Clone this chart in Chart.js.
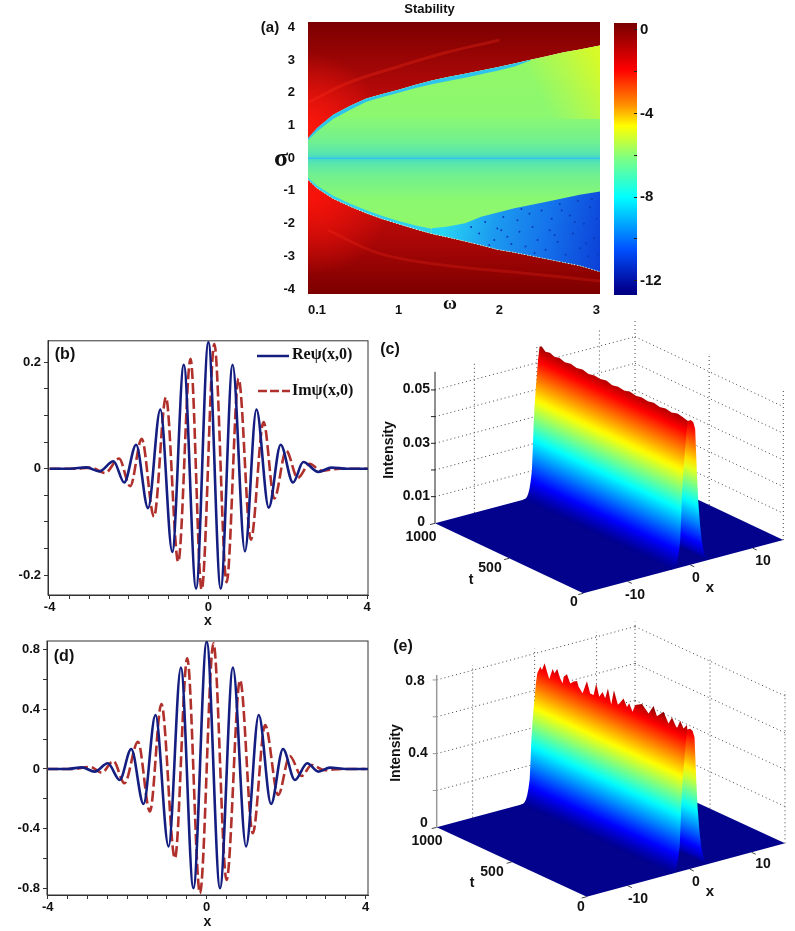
<!DOCTYPE html>
<html>
<head>
<meta charset="utf-8">
<title>Stability</title>
<script src="https://cdn.jsdelivr.net/npm/chart.js@4"></script>
<style>
  html, body { margin: 0; background: #fff; }
  #page { position: relative; width: 795px; height: 931px; overflow: hidden; }
  canvas { position: absolute; }
</style>
</head>
<body>
<div id="page">
  <canvas id="chartA"></canvas>
  <canvas id="chartBar"></canvas>
  <canvas id="chartB"></canvas>
  <canvas id="chartC"></canvas>
  <canvas id="chartD"></canvas>
  <canvas id="chartE"></canvas>
</div>
<script>
// (a) stability map, region edges
const edgeW = [0.1, 0.19, 0.35, 0.52, 0.68, 0.84, 1.0, 1.17, 1.33, 1.49, 1.66, 1.82, 1.98, 2.15, 2.31, 2.47, 2.63, 2.8, 3.0];
const upperEdge = [0.61, 0.92, 1.33, 1.6, 1.82, 1.96, 2.09, 2.24, 2.37, 2.48, 2.58, 2.68, 2.78, 2.89, 3.01, 3.11, 3.23, 3.32, 3.44];
const lowerEdge = [-0.66, -0.92, -1.24, -1.48, -1.68, -1.86, -2.01, -2.17, -2.31, -2.42, -2.54, -2.66, -2.79, -2.88, -2.98, -3.08, -3.18, -3.29, -3.47];
const upperRimW = [0.1, 0.19, 0.35, 0.52, 0.68, 0.84, 1.0, 1.17, 1.33, 1.49, 1.66, 1.82, 1.98, 2.15, 2.31];
const upperRim = [0.55, 0.82, 1.2, 1.48, 1.72, 1.87, 2.0, 2.14, 2.26, 2.36, 2.46, 2.56, 2.67, 2.8, 2.98];
const lowerRimW = [0.1, 0.19, 0.35, 0.52, 0.68, 0.84, 1.0, 1.17, 1.33];
const lowerRim = [-0.6, -0.84, -1.15, -1.39, -1.59, -1.77, -1.92, -2.06, -2.16];
const blueW = [1.33, 1.49, 1.66, 1.82, 2.15, 2.47, 2.8, 3.0];
const blueTop = [-2.14, -2.09, -1.99, -1.79, -1.53, -1.33, -1.12, -1.02];
const yellowW = [2.3, 2.47, 2.63, 2.8, 3.0];
const yellowTop = [3.0, 3.11, 3.23, 3.32, 3.44];
const arcUpW = [0.1, 0.5, 1.0, 1.5, 2.0];
const arcUp = [1.7, 2.3, 2.8, 3.25, 3.6];
const arcLowW = [0.3, 0.8, 1.4, 2.2, 3.0];
const arcLow = [-2.2, -2.9, -3.25, -3.5, -3.75];
const speckW = [1.72, 1.8, 1.86, 1.95, 1.98, 2.04, 2.08, 2.12, 2.18, 2.2, 2.26, 2.3, 2.33, 2.38, 2.42, 2.46, 2.5, 2.52, 2.58, 2.6, 2.66, 2.7, 2.73, 2.78, 2.8, 2.84, 2.88, 2.9, 2.94, 2.97, 1.9, 2.02, 2.22, 2.35, 2.55, 2.62, 2.75, 2.86, 2.92, 2.98];
const speckS = [-2.1, -2.3, -1.95, -2.5, -2.15, -1.8, -2.4, -2.62, -1.9, -2.25, -2.7, -1.7, -2.1, -2.5, -1.6, -2.8, -2.2, -1.85, -2.55, -1.4, -2.95, -1.75, -2.3, -1.3, -2.75, -2.0, -3.0, -1.5, -2.45, -1.85, -2.65, -2.2, -1.55, -2.9, -2.35, -1.6, -1.95, -2.6, -1.25, -2.95];
const sigmaTicks = [4, 3, 2, 1, 0, -1, -2, -3, -4];
const omegaTicks = [0.1, 1, 2, 3];
const barLevels = [0.33, -0.4, -1.9, -3.6, -4.6, -6.1, -8, -10.5, -12.4, -12.68];
const barColors = ['#7a0000', '#a00000', '#ff0000', '#ff9000', '#ffff00', '#80ff80', '#00ffff', '#0050ff', '#00008f', '#000080'];
const barTicks = [0, -2, -4, -6, -8, -10, -12];
const barLabels = [0, -4, -8, -12];

// (b) wave profile at low amplitude
const bReX = [-4, -3.5, -3.07, -2.75, -2.39, -2.12, -1.82, -1.52, -1.21, -0.91, -0.62, -0.31, 0, 0.31, 0.61, 0.92, 1.21, 1.52, 1.82, 2.13, 2.39, 2.77, 3.1, 3.5, 4.02];
const bReY = [0, 0, 0.0025, -0.005, 0.014, -0.026, 0.045, -0.074, 0.111, -0.156, 0.195, -0.225, 0.2375, -0.225, 0.195, -0.155, 0.111, -0.073, 0.045, -0.026, 0.0125, -0.006, 0.002, 0, 0];
const bImX = [-4, -3.4, -2.95, -2.6, -2.25, -1.97, -1.68, -1.37, -1.07, -0.76, -0.45, -0.17, 0.15, 0.46, 0.76, 1.07, 1.39, 1.66, 1.96, 2.25, 2.55, 2.85, 3.3, 4];
const bImY = [0, 0, 0.002, -0.008, 0.019, -0.033, 0.056, -0.09, 0.134, -0.175, 0.206, -0.227, 0.234, -0.213, 0.169, -0.133, 0.0875, -0.056, 0.034, -0.0175, 0.009, -0.004, 0, 0];
const bYTicks = [-0.2, -0.15, -0.1, -0.05, 0, 0.05, 0.1, 0.15, 0.2];
const bYLabels = [-0.2, 0, 0.2];

// (d) wave profile at high amplitude
const dReX = [-4, -3.5, -3.14, -2.82, -2.49, -2.19, -1.9, -1.59, -1.29, -0.96, -0.65, -0.335, 0, 0.335, 0.66, 0.99, 1.31, 1.62, 1.92, 2.22, 2.53, 2.81, 3.1, 3.5, 4.06];
const dReY = [0, 0, 0.011, -0.018, 0.038, -0.074, 0.134, -0.235, 0.362, -0.52, 0.68, -0.8, 0.855, -0.8, 0.68, -0.52, 0.362, -0.235, 0.134, -0.074, 0.038, -0.018, 0.009, 0, 0];
const dImX = [-4.02, -3.4, -2.93, -2.64, -2.35, -2.07, -1.73, -1.43, -1.14, -0.8, -0.49, -0.17, 0.17, 0.5, 0.84, 1.16, 1.47, 1.8, 2.09, 2.39, 2.64, 2.97, 3.4, 4];
const dImY = [0, 0, 0.014, -0.025, 0.054, -0.096, 0.183, -0.286, 0.436, -0.6, 0.743, -0.835, 0.843, -0.745, 0.597, -0.432, 0.295, -0.175, 0.087, -0.047, 0.027, -0.008, 0, 0];
const dYTicks = [-0.8, -0.6, -0.4, -0.2, 0, 0.2, 0.4, 0.6, 0.8];
const dYLabels = [-0.8, -0.4, 0, 0.4, 0.8];
const xTicks2d = [-4, -3.5, -3, -2.5, -2, -1.5, -1, -0.5, 0, 0.5, 1, 1.5, 2, 2.5, 3, 3.5, 4];
const xLabels2d = [-4, 0, 4];

// (c), (e) ridge cross section, share of the crest height
const flankLeftX = [-3, -2.6, -2.4, -2.2, -2, -1.8, -1.6, -1.45, -1.33, -1.15, -0.95, -0.8, -0.6, -0.37];
const flankLeftZ = [0, 0.004, 0.012, 0.03, 0.06, 0.11, 0.18, 0.33, 0.48, 0.62, 0.74, 0.81, 0.92, 1];
const flankRightX = [-0.37, 0.1, 0.5, 0.8, 1.07, 1.3, 1.6, 1.87, 2.3, 2.9];
const flankRightZ = [1, 1, 0.98, 0.93, 0.63, 0.42, 0.25, 0.14, 0.04, 0];
// crest height along t
const cCrestT = [1000, 985, 960, 930, 900, 865, 830, 790, 750, 710, 670, 630, 590, 550, 510, 470, 430, 390, 350, 310, 270, 230, 190, 150, 110, 70, 35, 0];
const cCrestI = [0.0558, 0.0562, 0.0549, 0.0553, 0.0546, 0.0551, 0.0544, 0.0549, 0.0543, 0.0548, 0.0542, 0.0547, 0.0544, 0.0549, 0.0542, 0.0547, 0.0543, 0.0549, 0.0544, 0.0548, 0.0545, 0.055, 0.0544, 0.0549, 0.0545, 0.0551, 0.0547, 0.0542];
const eCrestT = [1000, 980, 969, 951, 935, 920, 898, 885, 867, 847, 831, 824, 802, 780, 758, 735, 724, 698, 669, 647, 624, 607, 587, 565, 547, 529, 507, 489, 462, 425, 402, 387, 365, 347, 302, 258, 225, 202, 158, 125, 102, 69, 47, 25, 2, 0];
const eCrestI = [0.689, 0.732, 0.719, 0.762, 0.722, 0.688, 0.751, 0.732, 0.762, 0.719, 0.698, 0.737, 0.758, 0.717, 0.735, 0.747, 0.72, 0.694, 0.771, 0.713, 0.713, 0.782, 0.717, 0.752, 0.724, 0.784, 0.706, 0.79, 0.719, 0.769, 0.732, 0.757, 0.719, 0.763, 0.785, 0.75, 0.803, 0.757, 0.797, 0.746, 0.788, 0.74, 0.79, 0.757, 0.784, 0.76];
const cZGrid = [0.01, 0.02, 0.03, 0.04, 0.05];
const eZGrid = [0.2, 0.4, 0.6, 0.8];
const wallX = [-10.8, -0.8, 9.2];
const wallT = [500, 0];
const xTicks3d = [-10, 0, 10];
const tTicks3d = [1000, 500, 0];

Chart.defaults.font.family = '"Liberation Sans", Arial, sans-serif';
Chart.defaults.font.weight = 'bold';
Chart.defaults.color = '#111';
Chart.defaults.animation = false;
Chart.defaults.plugins.legend.display = false;
Chart.defaults.plugins.tooltip.enabled = false;

const pts = (xs, ys) => xs.map((x, i) => ({ x, y: ys[i] }));
const fixedTicks = vals => s => { s.ticks = vals.map(value => ({ value })); };
const only = vals => v => vals.some(k => Math.abs(k - v) < 1e-6) ? String(v) : '';

function place(id, left, top, width, height) {
  const c = document.getElementById(id);
  c.width = width; c.height = height;
  c.style.left = left + 'px'; c.style.top = top + 'px';
  return c;
}

// free text, given in page pixels: [text, x, y, font, align, rotation]
const notes = {
  id: 'notes',
  afterDraw(chart, args, opts) {
    const { ctx, canvas } = chart;
    (opts.items || []).forEach(([text, x, y, font, align, rot]) => {
      ctx.save();
      ctx.translate(x - canvas.offsetLeft, y - canvas.offsetTop);
      if (rot) ctx.rotate(rot);
      ctx.font = font;
      ctx.fillStyle = '#111';
      ctx.textAlign = align || 'center';
      ctx.textBaseline = 'middle';
      ctx.fillText(text, 0, 0);
      ctx.restore();
    });
    (opts.samples || []).forEach(([x1, x2, y, color, dash]) => {
      ctx.save();
      ctx.strokeStyle = color;
      ctx.lineWidth = 2.5;
      ctx.setLineDash(dash);
      ctx.beginPath();
      ctx.moveTo(x1 - canvas.offsetLeft, y - canvas.offsetTop);
      ctx.lineTo(x2 - canvas.offsetLeft, y - canvas.offsetTop);
      ctx.stroke();
      ctx.restore();
    });
  }
};

const frame = {
  id: 'frame',
  afterDatasetsDraw(chart) {
    const { ctx, chartArea: a } = chart;
    ctx.save();
    ctx.strokeStyle = '#333';
    ctx.lineWidth = 1;
    ctx.strokeRect(a.left, a.top, a.right - a.left, a.bottom - a.top);
    ctx.restore();
  }
};

const BOLD14 = 'bold 14px "Liberation Sans"';
const BOLD15 = 'bold 15px "Liberation Sans"';
const BOLD16 = 'bold 16px "Liberation Sans"';
const SERIF = 'bold 16px "Liberation Serif"';

// ---------- (a)
function vGrad(c, stops) {
  const { chart } = c;
  if (!chart.chartArea) return stops[0][1];
  const y = chart.scales.y;
  const g = chart.ctx.createLinearGradient(0, y.getPixelForValue(y.max), 0, y.getPixelForValue(y.min));
  stops.forEach(([v, col]) => g.addColorStop((y.max - v) / (y.max - y.min), col));
  return g;
}
function lineGrad(c, w1, s1, w2, s2, stops) {
  const { chart } = c;
  if (!chart.chartArea) return stops[0][1];
  const { x, y } = chart.scales;
  const g = chart.ctx.createLinearGradient(x.getPixelForValue(w1), y.getPixelForValue(s1), x.getPixelForValue(w2), y.getPixelForValue(s2));
  stops.forEach(([f, col]) => g.addColorStop(f, col));
  return g;
}
function glow(c, w, s, r, col, col0) {
  const { chart } = c;
  if (!chart.chartArea) return col0;
  const { x, y } = chart.scales;
  const px = x.getPixelForValue(w), py = y.getPixelForValue(s);
  const g = chart.ctx.createRadialGradient(px, py, 0, px, py, r);
  g.addColorStop(0, col);
  g.addColorStop(1, col0);
  return g;
}
const area = (data, fill, backgroundColor, order) => ({ data, fill, backgroundColor, order, borderWidth: 0, pointRadius: 0 });

new Chart(place('chartA', 255, 0, 349, 318), {
  type: 'line',
  data: {
    datasets: [
      area(pts(edgeW, upperEdge), 'end', c => vGrad(c, [[4.16, '#7c0000'], [3.2, '#960404'], [2.2, '#b00808'], [1, '#cc0c0c'], [0, '#cc0c0c']]), 9), // 0
      area(pts(edgeW, lowerEdge), 'start', c => vGrad(c, [[0, '#c80c0c'], [-1.5, '#c00a0a'], [-2.6, '#a80606'], [-3.5, '#900202'], [-4.15, '#7c0000']]), 9), // 1
      area(pts(edgeW, upperEdge), { target: 1 }, c => vGrad(c, [[3, '#92f866'], [1.3, '#8cf870'], [0.5, '#70f090'], [0.15, '#58e6ae'], [0, '#44d8c8'], [-0.15, '#58e6ae'], [-0.5, '#70f090'], [-1.3, '#8cf870'], [-3, '#92f866']]), 8), // 2
      area(pts(edgeW, upperEdge), 'end', c => glow(c, 0.1, 0.9, 75, 'rgba(255,24,12,0.95)', 'rgba(255,24,12,0)'), 7),
      area(pts(edgeW, lowerEdge), 'start', c => glow(c, 0.15, -1.1, 80, 'rgba(255,20,10,0.9)', 'rgba(255,20,10,0)'), 7),
      area(pts(yellowW, yellowTop), { value: 1.2 }, c => lineGrad(c, 2.35, 2.2, 2.95, 3.2, [[0, 'rgba(205,250,60,0)'], [1, 'rgba(215,250,40,1)']]), 7),
      area(pts(blueW, blueTop), { target: 1 }, c => lineGrad(c, 1.45, -2.1, 3, -3.2, [[0, '#28d4f4'], [0.3, '#1c9cf0'], [0.65, '#1470ea'], [1, '#0c40d8']]), 7),
      area(pts(upperRimW, upperRim), { target: 0 }, '#2fc4ee', 6),
      area(pts(lowerRimW, lowerRim), { target: 1 }, '#30d0ee', 6),
      { data: pts(arcUpW, arcUp), borderColor: 'rgba(255,50,30,0.28)', borderWidth: 3, pointRadius: 0, tension: 0.4, order: 5 },
      { data: pts(arcLowW, arcLow), borderColor: 'rgba(255,50,30,0.22)', borderWidth: 3, pointRadius: 0, tension: 0.4, order: 5 },
      { data: pts(speckW, speckS), showLine: false, pointRadius: 1, pointBorderWidth: 0, pointBackgroundColor: '#0a3cb8', order: 3 },
      { data: [{ x: 0.1, y: 0 }, { x: 3, y: 0 }], borderColor: '#38c4ea', borderWidth: 1.5, pointRadius: 0, order: 2 },
      { data: pts(edgeW, lowerEdge), borderColor: '#f2e4d8', borderWidth: 1, borderDash: [1, 2], pointRadius: 0, order: 1 }
    ]
  },
  options: {
    responsive: false,
    layout: { padding: 0 },
    plugins: {
      title: { display: true, text: 'Stability', font: { size: 13, weight: 'bold' }, padding: { top: 2, bottom: 4.4 } },
      notes: { items: [
        ['(a)', 270, 28, BOLD15],
        ['σ', 281, 159, 'bold 26px "Liberation Serif"'],
        ['ω', 450, 304, 'bold 19px "Liberation Serif"']
      ] }
    },
    scales: {
      x: {
        type: 'linear', min: 0.1, max: 3,
        afterBuildTicks: fixedTicks(omegaTicks),
        afterFit(s) { s.height = 24; },
        border: { display: false },
        grid: { display: false },
        ticks: { align: 'inner', maxRotation: 0, padding: 1, font: { size: 13 }, callback: v => String(v) }
      },
      y: {
        type: 'linear', min: -4.15, max: 4.16,
        afterBuildTicks: fixedTicks(sigmaTicks),
        afterFit(s) { s.width = 53; },
        border: { display: false },
        grid: { display: false },
        ticks: { padding: 5, font: { size: 13 }, callback: v => String(v) }
      }
    }
  },
  plugins: [notes]
});

// colour bar
new Chart(place('chartBar', 606, 0, 72, 318), {
  type: 'bar',
  data: {
    labels: [''],
    datasets: [{
      data: [[barLevels[barLevels.length - 1], barLevels[0]]],
      barPercentage: 1,
      categoryPercentage: 1,
      backgroundColor: c => vGrad(c, barLevels.map((v, i) => [v, barColors[i]]))
    }]
  },
  options: {
    responsive: false,
    layout: { padding: { top: 23, bottom: 23, left: 8 } },
    scales: {
      x: { display: false },
      y: {
        position: 'right', min: barLevels[barLevels.length - 1], max: barLevels[0],
        afterBuildTicks: fixedTicks(barTicks),
        afterFit(s) { s.width = 41; },
        border: { display: false },
        grid: { drawOnChartArea: false, tickLength: -3, color: '#222', z: 1 },
        ticks: { padding: 6, font: { size: 15 }, callback: only(barLabels) }
      }
    }
  }
});

// ---------- (b), (d)
function profileChart(id, top, h, plotTop, plotH, o) {
  const x0 = 48;
  return new Chart(place(id, 0, top, 380, h), {
    type: 'line',
    data: { datasets: [
      { label: 'Re', data: pts(o.reX, o.reY), borderColor: '#141e80', borderWidth: 2.6, pointRadius: 0, cubicInterpolationMode: 'monotone' },
      { label: 'Im', data: pts(o.imX, o.imY), borderColor: '#b0302c', borderWidth: 2.6, borderDash: [11, 4], pointRadius: 0, cubicInterpolationMode: 'monotone' }
    ] },
    options: {
      responsive: false,
      layout: { padding: { top: plotTop - top, right: 380 - o.right } },
      plugins: { notes: o.notes },
      scales: {
        x: {
          type: 'linear', min: o.xMin, max: o.xMax,
          afterBuildTicks: fixedTicks(xTicks2d),
          afterFit(s) { s.height = h - (plotTop - top) - plotH; },
          border: { color: '#333' },
          grid: { drawOnChartArea: false, tickLength: 4, color: '#333' },
          title: { display: true, text: 'x', font: { size: 14, weight: 'bold' }, padding: 0 },
          ticks: { autoSkip: false, maxRotation: 0, padding: 1, font: { size: 13 }, callback: only(xLabels2d) }
        },
        y: {
          type: 'linear', min: o.yMin, max: o.yMax,
          afterBuildTicks: fixedTicks(o.yTicks),
          afterFit(s) { s.width = o.left; },
          border: { color: '#333' },
          grid: { drawOnChartArea: false, tickLength: 4, color: '#333' },
          ticks: { autoSkip: false, padding: 3, font: { size: 13 }, callback: only(o.yLabels) }
        }
      }
    },
    plugins: [notes, frame]
  });
}

profileChart('chartB', 330, 300, 340, 255, {
  reX: bReX, reY: bReY, imX: bImX, imY: bImY, yTicks: bYTicks, yLabels: bYLabels,
  left: 48, right: 368, xMin: -4.04, xMax: 4.02, yMin: -0.237, yMax: 0.24,
  notes: {
    items: [
      ['(b)', 65, 355, BOLD16],
      ['Reψ(x,0)', 292, 355, SERIF, 'left'],
      ['Imψ(x,0)', 292, 391, SERIF, 'left']
    ],
    samples: [[257, 289, 356, '#141e80', []], [258, 290, 391, '#b0302c', [9, 3]]]
  }
});

profileChart('chartD', 630, 301, 641, 254, {
  reX: dReX, reY: dReY, imX: dImX, imY: dImY, yTicks: dYTicks, yLabels: dYLabels,
  left: 47, right: 368, xMin: -4.02, xMax: 4.06, yMin: -0.846, yMax: 0.859,
  notes: { items: [['(d)', 64, 657, BOLD16]] }
});

// ---------- (c), (e): the floor, walls and ridge are projected from x, t, intensity
const JET = [[0, [0, 0, 143]], [0.11, [0, 0, 255]], [0.375, [0, 255, 255]], [0.625, [255, 255, 0]], [0.875, [255, 0, 0]], [1, [128, 0, 0]]];
function jet(f) {
  f = Math.max(0, Math.min(1, f));
  for (let i = 1; i < JET.length; i++) {
    if (f <= JET[i][0]) {
      const [a, ca] = JET[i - 1], [b, cb] = JET[i];
      const k = (f - a) / (b - a);
      return `rgb(${ca.map((v, n) => Math.round(v + (cb[n] - v) * k)).join(',')})`;
    }
  }
  return 'rgb(128,0,0)';
}

function surfaceChart(id, top, h, s) {
  const project = (x, t, z) => {
    const fx = (x - s.xMin) / (s.xMax - s.xMin), ft = t / 1000;
    return { x: s.ox + s.xv[0] * fx + s.tv[0] * ft, y: s.oy + s.xv[1] * fx + s.tv[1] * ft - z * s.zScale };
  };
  const seg = (a, b, color, width, dash, order) => ({
    data: [a, b], borderColor: color, borderWidth: width, borderDash: dash || [], pointRadius: 0, order
  });

  // colour by height: a gradient across the ridge, running square to the t direction
  const len = Math.hypot(s.tv[0], s.tv[1]);
  const nx = -s.tv[1] / len, ny = s.tv[0] / len;
  const ridgeFill = (flankX, flankZ) => c => {
    const { chart } = c;
    if (!chart.chartArea) return '#00f';
    const { x: sx, y: sy } = chart.scales;
    const base = project(flankX[0], 0, 0);
    const at = (xv, f) => {
      const p = project(xv, 0, f * s.peak);
      return (p.x - base.x) * nx + (p.y - base.y) * ny;
    };
    const ordered = flankX.map((xv, i) => [xv, flankZ[i]]).sort((a, b) => a[1] - b[1]);
    const from = at(ordered[0][0], ordered[0][1]);
    const to = at(ordered[ordered.length - 1][0], ordered[ordered.length - 1][1]) + 6;
    const bx = sx.getPixelForValue(base.x), by = sy.getPixelForValue(base.y);
    const g = chart.ctx.createLinearGradient(bx + nx * from, by + ny * from, bx + nx * to, by + ny * to);
    let last = 0;
    for (let i = 1; i < ordered.length; i++) {
      const [x1, z1] = ordered[i - 1], [x2, z2] = ordered[i];
      for (let k = 0; k <= 5; k++) {
        const m = k / 5, xv = x1 + (x2 - x1) * m, f = z1 + (z2 - z1) * m;
        const pos = Math.max(last, Math.min(1, (at(xv, f) - from) / (to - from)));
        g.addColorStop(pos, jet(f * s.colorSpan));
        last = pos;
      }
    }
    g.addColorStop(1, jet(s.colorTop));
    return g;
  };
  const shape = (data, color, order) => ({ data, fill: 'shape', backgroundColor: color, borderWidth: 0, pointRadius: 0, order });

  const crestStart = s.crestI[0], crestEnd = s.crestI[s.crestI.length - 1];
  const left = [
    ...flankLeftX.map((x, i) => project(x, 1000, flankLeftZ[i] * crestStart)),
    ...s.crestT.map((t, i) => project(flankLeftX[flankLeftX.length - 1], t, s.crestI[i])),
    ...flankLeftX.slice().reverse().map((x, i) => project(x, 0, flankLeftZ[flankLeftZ.length - 1 - i] * crestEnd))
  ];
  const right = [
    ...flankRightX.map((x, i) => project(x, 0, flankRightZ[i] * crestEnd)),
    project(flankRightX[flankRightX.length - 1], 1000, 0),
    project(flankRightX[0], 1000, crestStart * 0.8)
  ];
  const floor = [project(s.xMin, 0, 0), project(s.xMax, 0, 0), project(s.xMax, 1000, 0), project(s.xMin, 1000, 0)];

  const datasets = [
    shape(left, ridgeFill(flankLeftX, flankLeftZ), 1),
    shape(right, ridgeFill(flankRightX, flankRightZ), 2),
    shape(floor, '#02028c', 3)
  ];
  const DOT = [1, 3];
  s.zGrid.forEach(z => {
    datasets.push(seg(project(s.xMin, 1000, z), project(s.xMax, 1000, z), '#444', 1, DOT, 5));
    datasets.push(seg(project(s.xMax, 1000, z), project(s.xMax, 0, z), '#444', 1, DOT, 5));
    datasets.push(seg(project(s.xMin, 1000, z), { x: project(s.xMin, 1000, z).x - 4, y: project(s.xMin, 1000, z).y }, s.axisColor, 1, [], 4));
  });
  s.zMinor.forEach(z => {
    datasets.push(seg(project(s.xMin, 1000, z), { x: project(s.xMin, 1000, z).x - 3, y: project(s.xMin, 1000, z).y }, s.axisColor, 1, [], 4));
  });
  wallX.forEach(x => datasets.push(seg(project(x, 1000, 0), project(x, 1000, s.zTop), '#444', 1, DOT, 5)));
  wallT.forEach(t => datasets.push(seg(project(s.xMax, t, 0), project(s.xMax, t, s.zTop), '#444', 1, DOT, 5)));
  datasets.push(seg(project(s.xMax, 1000, 0), project(s.xMax, 1000, s.zTop), '#444', 1, DOT, 5));
  datasets.push(seg(project(s.xMin, 1000, 0), project(s.xMin, 1000, s.zTop), s.axisColor, s.axisWidth, [], 4));
  xTicks3d.forEach(x => datasets.push(seg(project(x, 0, 0), project(x, -28, 0), '#444', 1, [], 4)));
  tTicks3d.forEach(t => {
    const a = project(s.xMin, t, 0);
    datasets.push(seg(a, { x: a.x - 5, y: a.y + 1.3 }, '#444', 1, [], 4));
  });

  return new Chart(place(id, 375, top, 420, h), {
    type: 'line',
    data: { datasets },
    options: {
      responsive: false,
      indexAxis: 'y', // fill:'shape' would otherwise be clipped to the first and last point
      layout: { padding: 0 },
      plugins: { notes: { items: s.notes } },
      scales: {
        x: { type: 'linear', display: false, min: 375, max: 795 },
        y: { type: 'linear', display: false, min: top, max: top + h, reverse: true }
      }
    },
    plugins: [notes]
  });
}

surfaceChart('chartC', 315, 300, {
  ox: 583.3, oy: 593.3, xv: [200, -53.3], tv: [-148.3, -70], zScale: 2667, xMin: -17.1, xMax: 14.9,
  peak: 0.0548, colorSpan: 0.95, colorTop: 1, crestT: cCrestT, crestI: cCrestI, zGrid: cZGrid,
  zMinor: [], zTop: 0.0568, axisColor: '#222', axisWidth: 1,
  notes: [
    ['(c)', 390, 350, BOLD16],
    ['0.05', 430, 389, BOLD14, 'right'], ['0.03', 430, 443, BOLD14, 'right'], ['0.01', 430, 496, BOLD14, 'right'],
    ['0', 425, 522, BOLD14, 'right'],
    ['1000', 421, 537, BOLD14], ['500', 490, 568, BOLD14], ['0', 574, 602, BOLD14],
    ['t', 471, 580, BOLD14],
    ['-10', 635, 595, BOLD14], ['0', 696, 578, BOLD14], ['10', 763, 561, BOLD14],
    ['x', 710, 588, 'bold 15px "Liberation Sans"'],
    ['Intensity', 389, 450, 'bold 14px "Liberation Sans"', 'center', -Math.PI / 2]
  ]
});

surfaceChart('chartE', 615, 316, {
  ox: 586.7, oy: 896.7, xv: [198.3, -53.4], tv: [-150, -69.4], zScale: 184.2, xMin: -16.6, xMax: 15.4,
  peak: 0.76, colorSpan: 0.93, colorTop: 1, crestT: eCrestT, crestI: eCrestI, zGrid: eZGrid,
  zMinor: [], zTop: 0.827, axisColor: '#999', axisWidth: 1.5,
  notes: [
    ['(e)', 403, 647, BOLD16],
    ['0.8', 415, 681, BOLD14], ['0.4', 418, 753, BOLD14], ['0', 424, 823, BOLD14],
    ['1000', 427, 841, BOLD14], ['500', 492, 872, BOLD14], ['0', 581, 907, BOLD14],
    ['t', 472, 883, BOLD14],
    ['-10', 638, 899, BOLD14], ['0', 696, 882, BOLD14], ['10', 763, 864, BOLD14],
    ['x', 710, 892, 'bold 15px "Liberation Sans"'],
    ['Intensity', 396, 753, 'bold 14px "Liberation Sans"', 'center', -Math.PI / 2]
  ]
});
</script>
</body>
</html>
